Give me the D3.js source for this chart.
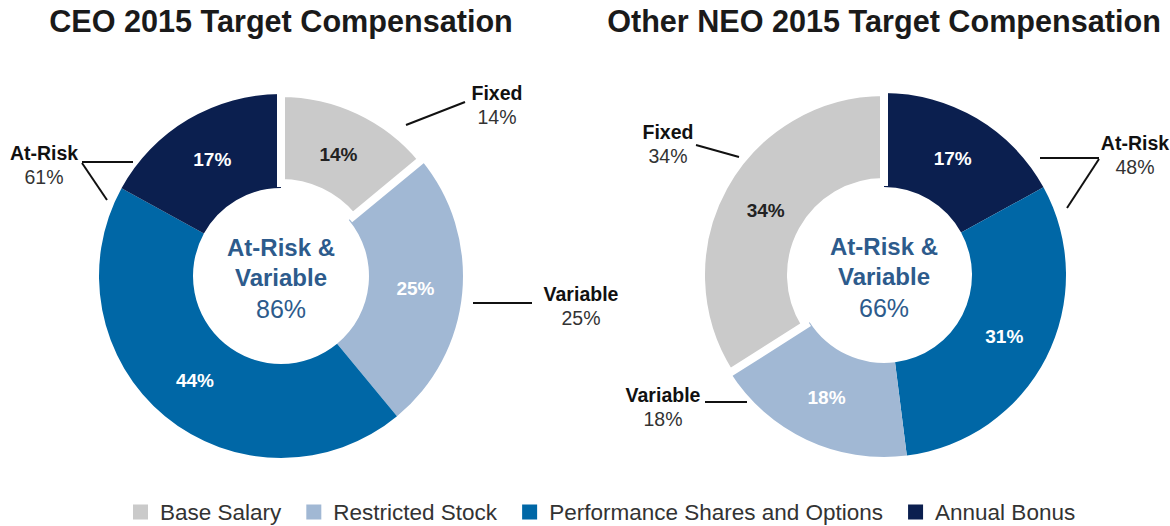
<!DOCTYPE html>
<html>
<head>
<meta charset="utf-8">
<script src="https://cdn.jsdelivr.net/npm/d3@7"></script>
<style>
  html, body { margin: 0; padding: 0; background: #fff; }
  svg { display: block; font-family: "Liberation Sans", Arial, Helvetica, sans-serif; }
</style>
</head>
<body>
<svg id="chart" width="1170" height="526"></svg>
<script>
// ---- data ----
const categories = ["Base Salary", "Restricted Stock", "Performance Shares and Options", "Annual Bonus"];
const colors = ["#cacaca", "#a1b8d4", "#0067a6", "#0b1f4f"];
const ceoValues = [14, 25, 44, 17];
const neoValues = [34, 18, 31, 17];
const ceoOrder = [0, 1, 2, 3];       // clockwise from 12 o'clock
const neoOrder = [3, 2, 1, 0];
const titles = ["CEO 2015 Target Compensation", "Other NEO 2015 Target Compensation"];
const centerLines = [["At-Risk &", "Variable", "86%"], ["At-Risk &", "Variable", "66%"]];
const ceoCallouts = [
  { name: "Fixed", pct: "14%", tx: 216, ty: -183, lines: [[125, -151, 184, -174]] },
  { name: "Variable", pct: "25%", tx: 300, ty: 18, lines: [[192, 27, 251, 27]] },
  { name: "At-Risk", pct: "61%", tx: -237, ty: -123, lines: [[-148, -114, -199, -114], [-199, -113, -174, -76]] }
];
const neoCallouts = [
  { name: "Fixed", pct: "34%", tx: -216, ty: -143, lines: [[-188, -130, -145, -118]] },
  { name: "Variable", pct: "18%", tx: -221, ty: 120, lines: [[-179, 127, -137, 127]] },
  { name: "At-Risk", pct: "48%", tx: 251, ty: -132, lines: [[156, -117, 215, -117], [215, -116, 183, -67]] }
];

const svg = d3.select("#chart");
const innerR = 88, outerR = 182;
const labelR = (innerR + outerR) / 2;

function donut(cx, cy, values, order, title, center, callouts) {
  const g = svg.append("g").attr("transform", `translate(${cx},${cy})`);
  const data = order.map(i => ({ idx: i, value: values[i] }));
  const pie = d3.pie().sort(null).value(d => d.value);
  const arcs = pie(data);
  const arc = d3.arc().innerRadius(innerR).outerRadius(outerR);
  const grayArc = d3.arc().innerRadius(innerR + 5).outerRadius(outerR + 1);
  const labelArc = d3.arc().innerRadius(labelR).outerRadius(labelR);

  // non-base slices first, then the separated base salary slice on top
  const ordered = arcs.filter(a => a.data.idx !== 0).concat(arcs.filter(a => a.data.idx === 0));
  g.selectAll("path.slice").data(ordered).join("path")
    .attr("class", "slice")
    .attr("d", d => d.data.idx === 0 ? grayArc(d) : arc(d))
    .attr("fill", d => colors[d.data.idx])
    .attr("stroke", d => d.data.idx === 0 ? "#fff" : "none")
    .attr("stroke-width", d => d.data.idx === 0 ? 8 : 0)
    .attr("stroke-linejoin", "miter");

  g.selectAll("text.pct").data(arcs).join("text")
    .attr("class", "pct")
    .attr("transform", d => `translate(${labelArc.centroid(d)})`)
    .attr("text-anchor", "middle")
    .attr("dy", "0.35em")
    .attr("font-size", 19)
    .attr("font-weight", "bold")
    .attr("fill", d => d.data.idx === 0 ? "#222" : "#fff")
    .text(d => d.data.value + "%");

  // center text
  const ct = g.append("g").attr("fill", "#2d5b8c").attr("text-anchor", "middle");
  ct.append("text").attr("y", -28).attr("dy", "0.35em").attr("font-size", 24).attr("font-weight", "bold").text(center[0]);
  ct.append("text").attr("y", 2).attr("dy", "0.35em").attr("font-size", 24).attr("font-weight", "bold").text(center[1]);
  ct.append("text").attr("y", 33).attr("dy", "0.35em").attr("font-size", 25).text(center[2]);

  // title
  svg.append("text").attr("x", cx).attr("y", 32).attr("text-anchor", "middle")
    .attr("font-size", 30.6).attr("font-weight", "bold").attr("fill", "#1a1a1a").text(title);

  // callouts
  callouts.forEach(c => {
    c.lines.forEach(l => {
      g.append("line").attr("x1", l[0]).attr("y1", l[1]).attr("x2", l[2]).attr("y2", l[3])
        .attr("stroke", "#111").attr("stroke-width", 2);
    });
    g.append("text").attr("x", c.tx).attr("y", c.ty).attr("dy", "0.35em").attr("text-anchor", "middle")
      .attr("font-size", 19.5).attr("font-weight", "bold").attr("fill", "#111").text(c.name);
    g.append("text").attr("x", c.tx).attr("y", c.ty + 24).attr("dy", "0.35em").attr("text-anchor", "middle")
      .attr("font-size", 19.5).attr("fill", "#333").text(c.pct);
  });
}

donut(281, 276, ceoValues, ceoOrder, titles[0], centerLines[0], ceoCallouts);
donut(884, 275, neoValues, neoOrder, titles[1], centerLines[1], neoCallouts);

// legend
const legend = svg.append("g").attr("transform", "translate(0,512)");
let x = 133;
categories.forEach((c, i) => {
  legend.append("rect").attr("x", x).attr("y", -7.5).attr("width", 15).attr("height", 15).attr("fill", colors[i]);
  const t = legend.append("text").attr("x", x + 27).attr("dy", "0.35em").attr("font-size", 22.5)
    .attr("fill", "#333").text(c);
  x += 27 + t.node().getComputedTextLength() + 25;
});
</script>
</body>
</html>
